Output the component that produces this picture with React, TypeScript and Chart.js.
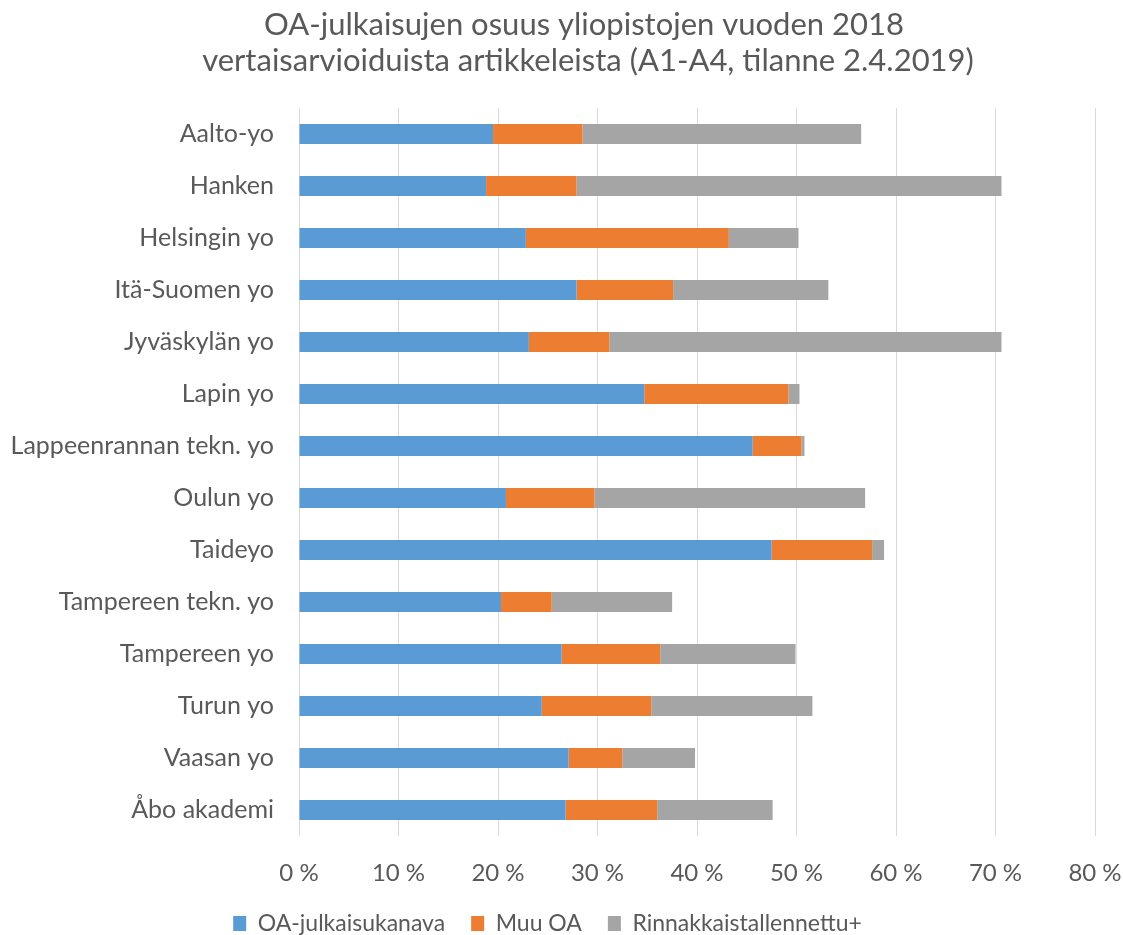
import React, { useEffect, useRef } from "react";
import { Chart, registerables } from "chart.js";

Chart.register(...registerables);

const titleLines = [
  "OA-julkaisujen osuus yliopistojen vuoden 2018",
  "vertaisarvioiduista artikkeleista (A1-A4, tilanne 2.4.2019)",
];

const categories = [
  "Aalto-yo",
  "Hanken",
  "Helsingin yo",
  "Itä-Suomen yo",
  "Jyväskylän yo",
  "Lapin yo",
  "Lappeenrannan tekn. yo",
  "Oulun yo",
  "Taideyo",
  "Tampereen tekn. yo",
  "Tampereen yo",
  "Turun yo",
  "Vaasan yo",
  "Åbo akademi",
];

const seriesNames = ["OA-julkaisukanava", "Muu OA", "Rinnakkaistallennettu+"];

const oaJulkaisukanava = [19.5, 18.8, 22.8, 27.9, 23.1, 34.7, 45.6, 20.8, 47.5, 20.3, 26.4, 24.4, 27.1, 26.8];
const muuOA = [9.0, 9.1, 20.4, 9.7, 8.1, 14.5, 4.9, 8.9, 10.1, 5.1, 9.9, 11.0, 5.4, 9.2];
const rinnakkaistallennettu = [28.0, 42.7, 7.0, 15.6, 39.4, 1.1, 0.3, 27.2, 1.2, 12.1, 13.6, 16.2, 7.3, 11.6];

const xTicks = [0, 10, 20, 30, 40, 50, 60, 70, 80];

const FONT = "Lato, 'Open Sans', sans-serif";
const TEXT = "#595959";

const titlePlugin = {
  id: "twoLineTitle",
  afterDraw(chart: any) {
    const ctx = chart.ctx;
    ctx.save();
    ctx.fillStyle = TEXT;
    ctx.font = `31px ${FONT}`;
    ctx.textAlign = "center";
    ctx.textBaseline = "alphabetic";
    ctx.fillText(titleLines[0], 584, 35);
    ctx.fillText(titleLines[1], 588, 71);
    ctx.restore();
  },
};

export default function App() {
  const ref = useRef<HTMLCanvasElement>(null);

  useEffect(() => {
    document.body.style.margin = "0";
    const canvas = ref.current!;
    const chart = new Chart(canvas, {
      type: "bar",
      data: {
        labels: categories,
        datasets: [
          { label: seriesNames[0], data: oaJulkaisukanava, backgroundColor: "#5B9BD5" },
          { label: seriesNames[1], data: muuOA, backgroundColor: "#ED7D31" },
          { label: seriesNames[2], data: rinnakkaistallennettu, backgroundColor: "#A5A5A5" },
        ],
      },
      options: {
        indexAxis: "y",
        responsive: false,
        animation: false,
        devicePixelRatio: 1,
        datasets: {
          bar: { categoryPercentage: 1, barPercentage: 0.385 },
        },
        layout: { padding: { top: 108, left: 0, right: 28, bottom: -10 } },
        scales: {
          x: {
            stacked: true,
            min: 0,
            max: 80,
            afterBuildTicks: (scale: any) => {
              scale.ticks = xTicks.map((v) => ({ value: v }));
            },
            afterFit: (scale: any) => {
              scale.height = 50;
              scale.paddingLeft = 0;
              scale.paddingRight = 0;
            },
            grid: { color: "#D9D9D9", lineWidth: 1, drawTicks: false },
            border: { display: false },
            ticks: {
              padding: 23,
              color: TEXT,
              font: { family: FONT, size: 24 },
              callback: (v: any) => `${v} %`,
            },
          },
          y: {
            stacked: true,
            afterFit: (scale: any) => {
              scale.width = 299;
            },
            grid: { display: false, drawTicks: false },
            border: { display: false },
            ticks: {
              padding: 25,
              color: TEXT,
              font: { family: FONT, size: 25 },
            },
          },
        },
        plugins: {
          title: { display: false },
          tooltip: { enabled: false },
          legend: {
            position: "bottom",
            labels: {
              boxWidth: 13,
              boxHeight: 15,
              padding: 26,
              color: TEXT,
              font: { family: FONT, size: 23 },
            },
          },
        },
      },
      plugins: [titlePlugin],
    });
    return () => chart.destroy();
  }, []);

  return (
    <div style={{ width: 1123, height: 935 }}>
      <canvas ref={ref} width={1123} height={935} style={{ display: "block" }} />
    </div>
  );
}
